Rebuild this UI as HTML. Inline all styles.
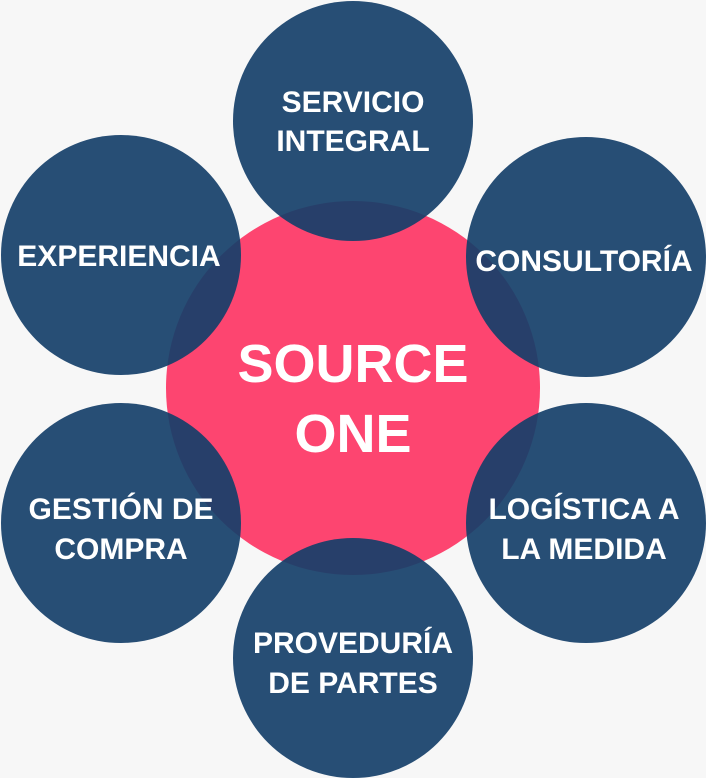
<!DOCTYPE html>
<html><head><meta charset="utf-8"><style>
html,body{margin:0;padding:0;background:#f7f7f7;}
svg{display:block;}
text{font-family:"Liberation Sans",sans-serif;font-weight:bold;fill:#fff;text-anchor:middle;}
</style></head><body>
<svg width="706" height="778" viewBox="0 0 706 778" xmlns="http://www.w3.org/2000/svg">
<rect width="706" height="778" fill="#f7f7f7"/>
<circle cx="353" cy="388" r="187" fill="#fd4570"/>
<g fill="#153f69" fill-opacity="0.92">
<circle cx="353" cy="121" r="120"/>
<circle cx="121" cy="255" r="120"/>
<circle cx="586" cy="257" r="120"/>
<circle cx="121" cy="523" r="120"/>
<circle cx="586" cy="523" r="120"/>
<circle cx="353" cy="658" r="120"/>
</g>
<text x="353" y="382" font-size="54">SOURCE</text>
<text x="353" y="452" font-size="54">ONE</text>
<g font-size="30">
<text x="353" y="112">SERVICIO</text>
<text x="353" y="151">INTEGRAL</text>
<text x="119" y="266">EXPERIENCIA</text>
<text x="584" y="271">CONSULTORÍA</text>
<text x="121" y="519">GESTIÓN DE</text>
<text x="121" y="559">COMPRA</text>
<text x="584" y="519">LOGÍSTICA A</text>
<text x="584" y="559">LA MEDIDA</text>
<text x="353" y="653">PROVEDURÍA</text>
<text x="353" y="693">DE PARTES</text>
</g>
</svg>
</body></html>
